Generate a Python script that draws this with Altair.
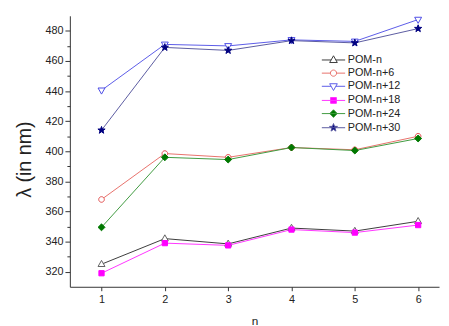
import math
import altair as alt
import pandas as pd

# ---- data ----
n_values = [1, 2, 3, 4, 5, 6]
series_names = ["POM-n", "POM-n+6", "POM-n+12", "POM-n+18", "POM-n+24", "POM-n+30"]
pom_n = [325, 342, 338.5, 349, 347, 353.5]
pom_n6 = [368, 398.5, 396, 402.5, 401, 410]
pom_n12 = [440.5, 471, 470, 474, 473, 487.5]
pom_n18 = [319, 339, 337.5, 348, 346, 351]
pom_n24 = [349.5, 396, 394.5, 402.5, 400.5, 408.5]
pom_n30 = [414, 469, 467, 473.5, 472, 481.5]
y_ticks = [320, 330, 340, 350, 360, 370, 380, 390, 400, 410, 420, 430, 440, 450, 460, 470, 480]

rows = []
for name, vals in zip(series_names, [pom_n, pom_n6, pom_n12, pom_n18, pom_n24, pom_n30]):
    for n, v in zip(n_values, vals):
        rows.append({"n": n, "lam": v, "series": name})
df = pd.DataFrame(rows)

# ---- styling ----
line_colors = ["#3a3a3a", "#e8706a", "#5a5ae8", "#ff33ff", "#3f9a3f", "#5a5aa0"]
marker_colors = ["#606060", "#e04a4a", "#4a4ae6", "#ff00ff", "#007800", "#000080"]
fills = ["white", "white", "white", "#ff00ff", "#007800", "#000080"]

TRI_UP = "M0,-1.15L1.05,0.7L-1.05,0.7Z"
TRI_DN = "M0,1.15L1.05,-0.7L-1.05,-0.7Z"
CIRCLE = "M0.85,0A0.85,0.85,0,1,1,-0.85,0A0.85,0.85,0,1,1,0.85,0Z"
SQUARE = "M-0.8,-0.8H0.8V0.8H-0.8Z"
DIAMOND = "M0,-1.05L1.05,0L0,1.05L-1.05,0Z"
pts = []
for k in range(10):
    r = 1.15 if k % 2 == 0 else 0.47
    a = -math.pi / 2 + k * math.pi / 5
    pts.append(f"{r*math.cos(a):.3f},{r*math.sin(a):.3f}")
STAR = "M" + "L".join(pts) + "Z"

marker_paths = [TRI_UP, CIRCLE, TRI_DN, SQUARE, DIAMOND, STAR]
edges = [0.65, 0.85, 0.65, 0.0, 0.0, 0.0]
L = 3.2
legend_paths = []
for p, e in zip(marker_paths, edges):
    if e > 0:
        legend_paths.append(f"M-{L},0H-{e}M{e},0H{L}" + p)
    else:
        legend_paths.append(f"M-{L},0H{L}" + p)

FONT = "Liberation Sans"

x_enc = alt.X(
    "n:Q",
    scale=alt.Scale(domain=[0.5, 6.33], nice=False, zero=False),
    axis=alt.Axis(
        values=n_values, format="d", title="n", grid=False,
        tickSize=4, labelFontSize=11, labelPadding=3, labelFont=FONT,
        titleFont=FONT, titleFontSize=12, titleFontWeight=400, titlePadding=11,
        domainColor="#333333", tickColor="#333333", labelColor="#222222", titleColor="#222222",
    ),
)
y_enc = alt.Y(
    "lam:Q",
    scale=alt.Scale(domain=[310, 490], nice=False, zero=False),
    axis=alt.Axis(
        values=y_ticks, grid=False, title="λ (in nm)",
        labelExpr="datum.value % 20 === 0 ? datum.label : ''",
        tickSize={"condition": {"test": "datum.value % 20 === 0", "value": 5}, "value": 3},
        labelFontSize=11, labelPadding=2, labelFont=FONT,
        titleFont=FONT, titleFontSize=20, titleFontWeight=400,
        titleAngle=270, titleAlign="center", titleBaseline="alphabetic",
        titleX=-40, titleY=146,
        domainColor="#333333", tickColor="#333333", labelColor="#222222", titleColor="#222222",
    ),
)

lines = alt.Chart(df).mark_line(strokeWidth=1).encode(
    x=x_enc, y=y_enc,
    color=alt.Color("series:N", scale=alt.Scale(domain=series_names, range=line_colors), legend=None),
)

points = alt.Chart(df).mark_point(filled=True, size=45, strokeWidth=1, opacity=1).encode(
    x=x_enc, y=y_enc,
    shape=alt.Shape("series:N", scale=alt.Scale(domain=series_names, range=marker_paths), legend=None),
    stroke=alt.Stroke("series:N", scale=alt.Scale(domain=series_names, range=marker_colors), legend=None),
    fill=alt.Fill("series:N", scale=alt.Scale(domain=series_names, range=fills), legend=None),
)

leg = alt.Legend(
    title=None, orient="none", legendX=263, legendY=39.5, padding=0,
    symbolSize=55, symbolStrokeWidth=1, symbolOffset=0,
    labelFontSize=11, labelFont=FONT, labelColor="#222222", labelOffset=9,
    rowPadding=1.4,
)
legend_layer = alt.Chart(df).transform_filter("false").mark_point(
    filled=True, size=55, strokeWidth=1, opacity=1
).encode(
    x=x_enc, y=y_enc,
    shape=alt.Shape("series:N", scale=alt.Scale(domain=series_names, range=legend_paths), legend=leg),
    stroke=alt.Stroke("series:N", scale=alt.Scale(domain=series_names, range=line_colors), legend=leg),
    fill=alt.Fill("series:N", scale=alt.Scale(domain=series_names, range=fills), legend=leg),
)

chart = (
    alt.layer(lines, points, legend_layer)
    .resolve_scale(shape="independent", stroke="independent", fill="independent")
    .properties(
        width=376, height=276, autosize="none",
        padding={"left": 63, "top": 5, "right": 2, "bottom": 37},
        background="white",
    )
    .configure_view(stroke=None)
)

chart.save("out.html", embed_options={"renderer": "svg", "actions": False})
